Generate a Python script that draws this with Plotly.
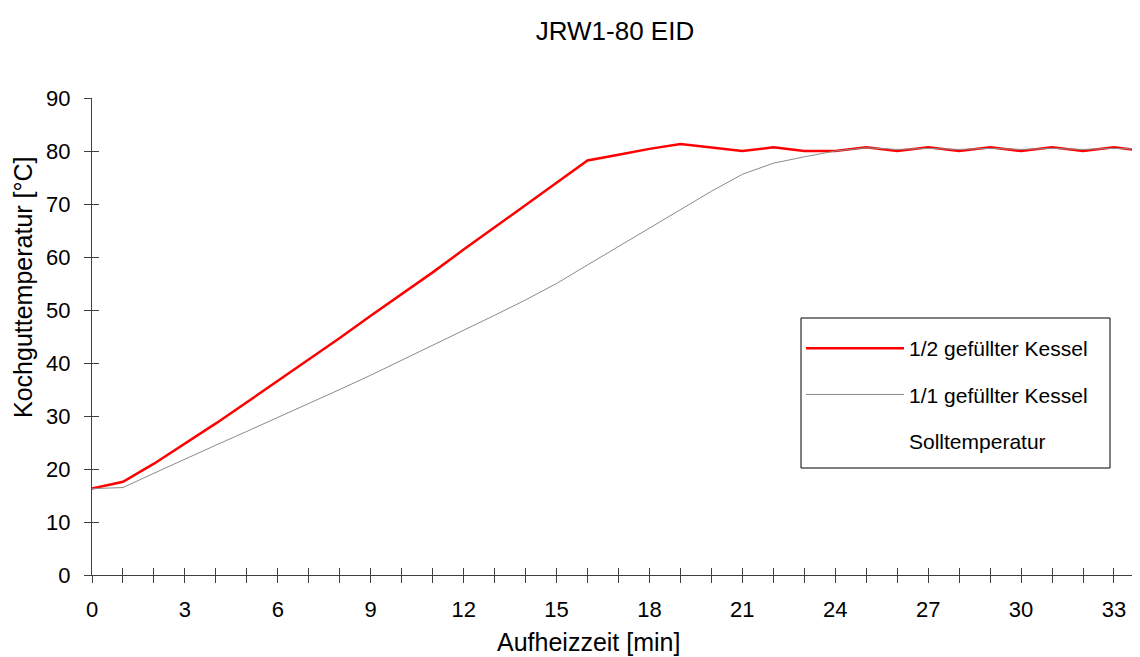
import plotly.graph_objects as go

# ---- data ----
minutes = list(range(0, 35))
half_filled = [16.3, 17.6, 21.0, 24.8, 28.6, 32.6, 36.6, 40.6, 44.7, 48.9,
               53.0, 57.1, 61.4, 65.6, 69.9, 74.1, 78.2, 79.3, 80.4, 81.3,
               80.7, 80.0, 80.7, 80.0, 80.0, 80.7, 80.0, 80.7, 80.0, 80.7,
               80.0, 80.7, 80.0, 80.7, 80.0]
full_filled = [16.3, 16.5, 19.2, 21.9, 24.5, 27.1, 29.7, 32.3, 35.0, 37.7,
               40.5, 43.3, 46.2, 49.0, 51.9, 55.0, 58.5, 62.0, 65.5, 69.0,
               72.4, 75.6, 77.7, 78.9, 80.0, 80.6, 80.3, 80.5, 80.3, 80.5,
               80.3, 80.5, 80.3, 80.5, 80.3]
setpoint = [80] * 35
series_names = ["1/2 gefüllter Kessel", "1/1 gefüllter Kessel", "Solltemperatur"]
x_tick_vals = list(range(0, 34, 3))
x_tick_text = [str(v) for v in x_tick_vals]
y_tick_vals = list(range(0, 91, 10))
y_tick_text = [str(v) for v in y_tick_vals]

FONT = "Liberation Sans, Arial, sans-serif"
AX = "#404040"
XR = [0, 33.84]
YR = [0, 90]

# page body has an 8px margin: the figure starts at (8, 8)
OFF = 8
W, H = 1140 - OFF, 657 - OFF
PL, PR, PT, PB = 92, 1140, 98, 575          # plot area in window pixels
PW, PH = PR - PL, PB - PT


def px_x(x):
    return (x - PL) / PW


def px_y(y):
    return (PB - y) / PH


fig = go.Figure()
fig.add_trace(go.Scatter(x=minutes, y=half_filled, mode="lines", name=series_names[0],
                         line=dict(color="#ff0000", width=2.5), legendgroup="a"))
fig.add_trace(go.Scatter(x=minutes, y=full_filled, mode="lines", name=series_names[1],
                         line=dict(color="#8a8a8a", width=1), legendgroup="b"))
fig.add_trace(go.Scatter(x=minutes, y=setpoint, mode="lines", name=series_names[2],
                         line=dict(color="rgba(0,0,0,0)", width=1), legendgroup="c",
                         xaxis="x2", yaxis="y2"))

fig.update_layout(
    width=W, height=H,
    margin=dict(l=PL - OFF, r=0, t=PT - OFF, b=657 - PB),
    paper_bgcolor="white", plot_bgcolor="white",
    font=dict(family=FONT, color="black", size=22),
    title=dict(text="JRW1-80 EID", x=(615 - OFF) / W, xanchor="center",
               y=1 - (31 - OFF) / H, yanchor="middle", font=dict(size=26)),
    xaxis=dict(range=XR, tickmode="array", tickvals=x_tick_vals, ticktext=x_tick_text,
               ticks="outside", ticklen=7, tickcolor=AX, tickwidth=1,
               minor=dict(dtick=1, tick0=0, ticks="outside", ticklen=7, tickcolor=AX),
               showline=True, linecolor=AX, linewidth=1, showgrid=False, zeroline=False,
               ticklabelstandoff=8, tickfont=dict(size=22)),
    xaxis2=dict(range=XR, overlaying="x", anchor="y", dtick=1, tick0=0,
                ticks="inside", ticklen=7, tickcolor=AX, showticklabels=False,
                showline=False, showgrid=False, zeroline=False),
    yaxis=dict(range=YR, tickmode="array", tickvals=y_tick_vals, ticktext=y_tick_text,
               ticks="outside", ticklen=7, tickcolor=AX, tickwidth=1,
               showline=True, linecolor=AX, linewidth=1, showgrid=False, zeroline=False,
               ticklabelstandoff=9, tickfont=dict(size=22)),
    yaxis2=dict(range=YR, overlaying="y", anchor="x", dtick=10, tick0=0,
                ticks="inside", ticklen=7, tickcolor=AX, showticklabels=False,
                showline=False, showgrid=False, zeroline=False, side="left"),
    legend=dict(x=px_x(801), y=px_y(328), xanchor="left", yanchor="top",
                borderwidth=0, bgcolor="rgba(0,0,0,0)",
                font=dict(size=21), itemwidth=98, tracegroupgap=16,
                traceorder="grouped"),
    showlegend=True,
    shapes=[dict(type="rect", xref="paper", yref="paper",
                 x0=px_x(801), x1=px_x(1110), y0=px_y(468), y1=px_y(318),
                 line=dict(color="black", width=1), fillcolor="white", layer="below")],
)

fig.add_annotation(text="Aufheizzeit [min]", xref="paper", yref="paper",
                   x=px_x(588), y=px_y(642), xanchor="center",
                   yanchor="middle", showarrow=False, font=dict(size=25))
fig.add_annotation(text="Kochguttemperatur [°C]", xref="paper", yref="paper",
                   x=px_x(23), y=px_y(287), xanchor="center",
                   yanchor="middle", textangle=-90, showarrow=False, font=dict(size=25))

fig.write_html("out.html")
